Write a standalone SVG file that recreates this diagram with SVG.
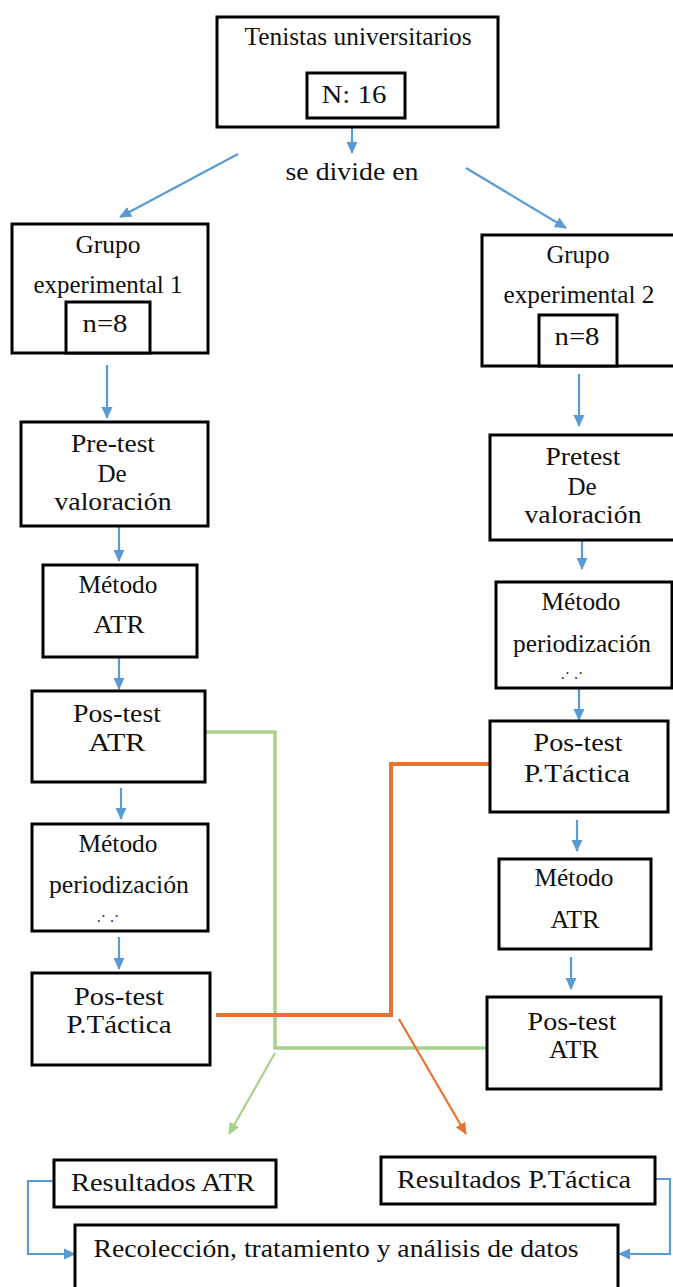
<svg xmlns="http://www.w3.org/2000/svg" width="673" height="1287" viewBox="0 0 673 1287">
  <style>
    .box { fill: #ffffff; stroke: #000000; stroke-width: 3; }
    .t { font-family: "Liberation Serif", "Times New Roman", serif; font-size: 25px; fill: #111111; text-anchor: middle; }
    .dots { font-family: "Liberation Serif", "Times New Roman", serif; font-size: 16px; fill: #333333; text-anchor: middle; }
    .blue { fill: none; stroke: #5B9BD5; stroke-width: 2.2; }
    .green { fill: none; stroke: #A9D18E; stroke-width: 3.5; }
    .greenThin { fill: none; stroke: #A9D18E; stroke-width: 2.2; }
    .orange { fill: none; stroke: #E97132; stroke-width: 4; }
    .orangeThin { fill: none; stroke: #E97132; stroke-width: 2.2; }
  </style>
  <defs>
    <marker id="arrowBlue" markerUnits="userSpaceOnUse" markerWidth="12" markerHeight="12" viewBox="0 0 12 12" refX="11" refY="6" orient="auto">
      <path d="M0,0.5 L12,6 L0,11.5 Z" fill="#5B9BD5"/>
    </marker>
    <marker id="arrowGreen" markerUnits="userSpaceOnUse" markerWidth="12" markerHeight="12" viewBox="0 0 12 12" refX="11" refY="6" orient="auto">
      <path d="M0,0.5 L12,6 L0,11.5 Z" fill="#A9D18E"/>
    </marker>
    <marker id="arrowOrange" markerUnits="userSpaceOnUse" markerWidth="12" markerHeight="12" viewBox="0 0 12 12" refX="11" refY="6" orient="auto">
      <path d="M0,0.5 L12,6 L0,11.5 Z" fill="#E97132"/>
    </marker>
  </defs>
  <rect width="673" height="1287" fill="#ffffff"/>

  <!-- connectors -->
  <g id="connectors">
    <line class="blue" x1="352" y1="128" x2="352" y2="153" marker-end="url(#arrowBlue)"/>
    <line class="blue" x1="238" y1="154" x2="120" y2="217" marker-end="url(#arrowBlue)"/>
    <line class="blue" x1="466" y1="168" x2="566" y2="228" marker-end="url(#arrowBlue)"/>

    <line class="blue" x1="107" y1="365" x2="107" y2="418" marker-end="url(#arrowBlue)"/>
    <line class="blue" x1="119" y1="527" x2="119" y2="561" marker-end="url(#arrowBlue)"/>
    <line class="blue" x1="119" y1="658" x2="119" y2="689" marker-end="url(#arrowBlue)"/>
    <line class="blue" x1="121" y1="788" x2="121" y2="819" marker-end="url(#arrowBlue)"/>
    <line class="blue" x1="119" y1="937" x2="119" y2="969" marker-end="url(#arrowBlue)"/>

    <line class="blue" x1="579" y1="374" x2="579" y2="426" marker-end="url(#arrowBlue)"/>
    <line class="blue" x1="582" y1="541" x2="582" y2="569" marker-end="url(#arrowBlue)"/>
    <line class="blue" x1="579" y1="689" x2="579" y2="720" marker-end="url(#arrowBlue)"/>
    <line class="blue" x1="577" y1="820" x2="577" y2="851" marker-end="url(#arrowBlue)"/>
    <line class="blue" x1="571" y1="957" x2="571" y2="989" marker-end="url(#arrowBlue)"/>

    <path class="green" d="M205,732 H275 V1048 H486"/>
    <line class="greenThin" x1="275" y1="1053" x2="229" y2="1134" marker-end="url(#arrowGreen)"/>

    <path class="orange" d="M216,1015 H391 V764 H489"/>
    <line class="orangeThin" x1="399" y1="1019" x2="466" y2="1134" marker-end="url(#arrowOrange)"/>

    <path class="blue" d="M54,1181 H28 V1254 H75" marker-end="url(#arrowBlue)"/>
    <path class="blue" d="M656,1179 H670 V1254 H619" marker-end="url(#arrowBlue)"/>
  </g>

  <!-- top node -->
  <g id="node-tenistas">
    <rect class="box" x="217" y="17" width="281" height="110"/>
    <text class="t" x="358" y="45" textLength="227" lengthAdjust="spacingAndGlyphs">Tenistas universitarios</text>
    <rect class="box" x="307" y="73" width="98" height="45"/>
    <text class="t" x="354" y="103" textLength="65" lengthAdjust="spacingAndGlyphs">N: 16</text>
  </g>

  <g id="node-divide">
    <text class="t" x="352" y="180" textLength="133" lengthAdjust="spacingAndGlyphs">se divide en</text>
  </g>

  <!-- left column -->
  <g id="node-grupo1">
    <rect class="box" x="12" y="224" width="196" height="129"/>
    <text class="t" x="108" y="253" textLength="65" lengthAdjust="spacingAndGlyphs">Grupo</text>
    <text class="t" x="108" y="293" textLength="149" lengthAdjust="spacingAndGlyphs">experimental 1</text>
    <rect class="box" x="66" y="302" width="84" height="51"/>
    <text class="t" x="105" y="332" textLength="45" lengthAdjust="spacingAndGlyphs">n=8</text>
  </g>

  <g id="node-pretest1">
    <rect class="box" x="21" y="422" width="187" height="104"/>
    <text class="t" x="113" y="452" textLength="84" lengthAdjust="spacingAndGlyphs">Pre-test</text>
    <text class="t" x="112" y="482">De</text>
    <text class="t" x="113" y="510" textLength="117" lengthAdjust="spacingAndGlyphs">valoración</text>
  </g>

  <g id="node-metodo-atr1">
    <rect class="box" x="43" y="565" width="154" height="92"/>
    <text class="t" x="118" y="593" textLength="79" lengthAdjust="spacingAndGlyphs">Método</text>
    <text class="t" x="119" y="633" textLength="51" lengthAdjust="spacingAndGlyphs">ATR</text>
  </g>

  <g id="node-postest-atr1">
    <rect class="box" x="32" y="691" width="173" height="91"/>
    <text class="t" x="117" y="722" textLength="88" lengthAdjust="spacingAndGlyphs">Pos-test</text>
    <text class="t" x="117" y="751" textLength="57" lengthAdjust="spacingAndGlyphs">ATR</text>
  </g>

  <g id="node-metodo-per1">
    <rect class="box" x="32" y="824" width="176" height="107"/>
    <text class="t" x="118" y="852" textLength="79" lengthAdjust="spacingAndGlyphs">Método</text>
    <text class="t" x="119" y="893" textLength="140" lengthAdjust="spacingAndGlyphs">periodización</text>
    <text class="dots" x="108" y="922">.·   .·</text>
  </g>

  <g id="node-postest-pt1">
    <rect class="box" x="32" y="973" width="178" height="92"/>
    <text class="t" x="119" y="1005" textLength="90" lengthAdjust="spacingAndGlyphs">Pos-test</text>
    <text class="t" x="119" y="1033" textLength="105" lengthAdjust="spacingAndGlyphs">P.Táctica</text>
  </g>

  <!-- right column -->
  <g id="node-grupo2">
    <rect class="box" x="482" y="235" width="200" height="131"/>
    <text class="t" x="578" y="263" textLength="63" lengthAdjust="spacingAndGlyphs">Grupo</text>
    <text class="t" x="579" y="303" textLength="151" lengthAdjust="spacingAndGlyphs">experimental 2</text>
    <rect class="box" x="539" y="315" width="78" height="51"/>
    <text class="t" x="577" y="345" textLength="45" lengthAdjust="spacingAndGlyphs">n=8</text>
  </g>

  <g id="node-pretest2">
    <rect class="box" x="490" y="435" width="192" height="105"/>
    <text class="t" x="583" y="465" textLength="75" lengthAdjust="spacingAndGlyphs">Pretest</text>
    <text class="t" x="582" y="495">De</text>
    <text class="t" x="583" y="523" textLength="117" lengthAdjust="spacingAndGlyphs">valoración</text>
  </g>

  <g id="node-metodo-per2">
    <rect class="box" x="496" y="582" width="176" height="106"/>
    <text class="t" x="581" y="610" textLength="79" lengthAdjust="spacingAndGlyphs">Método</text>
    <text class="t" x="582" y="652" textLength="138" lengthAdjust="spacingAndGlyphs">periodización</text>
    <text class="dots" x="572" y="679">.·   .·</text>
  </g>

  <g id="node-postest-pt2">
    <rect class="box" x="490" y="721" width="178" height="91"/>
    <text class="t" x="578" y="751" textLength="89" lengthAdjust="spacingAndGlyphs">Pos-test</text>
    <text class="t" x="577" y="782" textLength="106" lengthAdjust="spacingAndGlyphs">P.Táctica</text>
  </g>

  <g id="node-metodo-atr2">
    <rect class="box" x="499" y="859" width="152" height="90"/>
    <text class="t" x="574" y="886" textLength="79" lengthAdjust="spacingAndGlyphs">Método</text>
    <text class="t" x="575" y="928" textLength="49" lengthAdjust="spacingAndGlyphs">ATR</text>
  </g>

  <g id="node-postest-atr2">
    <rect class="box" x="487" y="997" width="174" height="92"/>
    <text class="t" x="572" y="1030" textLength="89" lengthAdjust="spacingAndGlyphs">Pos-test</text>
    <text class="t" x="574" y="1058" textLength="50" lengthAdjust="spacingAndGlyphs">ATR</text>
  </g>

  <!-- results -->
  <g id="node-resultados-atr">
    <rect class="box" x="54" y="1160" width="222" height="47"/>
    <text class="t" x="163" y="1191" textLength="184" lengthAdjust="spacingAndGlyphs">Resultados ATR</text>
  </g>

  <g id="node-resultados-pt">
    <rect class="box" x="381" y="1157" width="274" height="47"/>
    <text class="t" x="514" y="1188" textLength="234" lengthAdjust="spacingAndGlyphs">Resultados P.Táctica</text>
  </g>

  <g id="node-recoleccion">
    <rect class="box" x="75" y="1225" width="543" height="80"/>
    <text class="t" x="336" y="1257" textLength="485" lengthAdjust="spacingAndGlyphs">Recolección, tratamiento y análisis de datos</text>
  </g>
</svg>
